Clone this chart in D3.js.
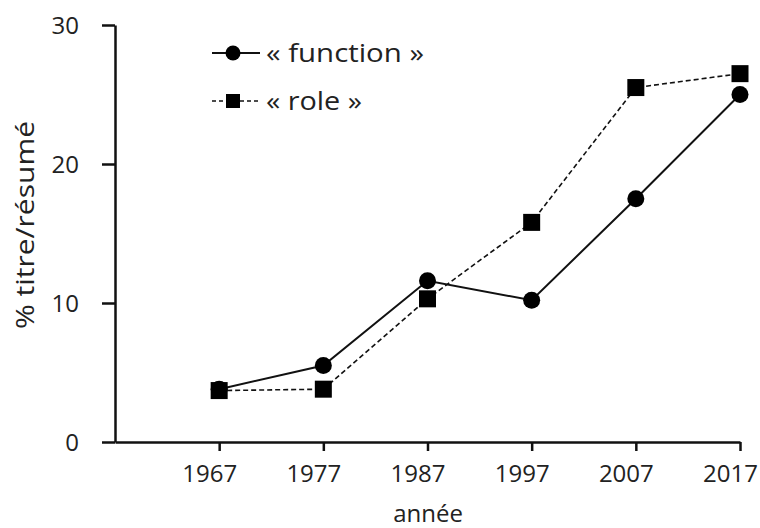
<!DOCTYPE html>
<html>
<head>
<meta charset="utf-8">
<script src="https://cdn.jsdelivr.net/npm/d3@7"></script>
<style>
	body { margin: 0; background: #fff; }
	text { font-family: "Open Sans", "Noto Sans", sans-serif; fill: #222; }
</style>
</head>
<body>
<svg id="chart" width="760" height="528"></svg>
<script>
const years		= [1967, 1977, 1987, 1997, 2007, 2017];
const functionPct	= [3.8, 5.5, 11.6, 10.2, 17.5, 25.0];
const rolePct		= [3.7, 3.8, 10.3, 15.8, 25.5, 26.5];
const yTicks		= [0, 10, 20, 30];

let svg	= d3.select('#chart');

let x	= d3.scaleLinear().domain([1957, 2017]).range([115, 740]);
let y	= d3.scaleLinear().domain([0, 30]).range([442, 25]);

// axes
let yAxis = svg.append('g').attr('transform', 'translate(115,0)')
	.call(d3.axisLeft(y).tickValues(yTicks).tickSize(13).tickSizeOuter(0).tickPadding(23));
let xAxis = svg.append('g').attr('transform', 'translate(0,442)')
	.call(d3.axisBottom(x).tickValues(years).tickFormat(d3.format('d')).tickSize(9).tickSizeOuter(0).tickPadding(14));

svg.selectAll('.domain, .tick line').attr('stroke', '#111').attr('stroke-width', 2.5);
yAxis.selectAll('text').style('font-size', '24px').attr('dy', '0.34em');
xAxis.selectAll('text').style('font-size', '24px').attr('dx', '-10');

svg.append('text').attr('text-anchor', 'middle').attr('transform', 'translate(34,225) rotate(-90)')
	.style('font-size', '26px').attr('textLength', 208).attr('lengthAdjust', 'spacingAndGlyphs').text('% titre/résumé');
svg.append('text').attr('text-anchor', 'middle').attr('x', 428).attr('y', 522)
	.style('font-size', '24px').text('année');

// series
let line = d3.line().x((d, i) => x(years[i])).y(d => y(d));

svg.append('path').datum(rolePct).attr('d', line).attr('fill', 'none')
	.attr('stroke', '#111').attr('stroke-width', 1.6).attr('stroke-dasharray', '5,3');
svg.append('path').datum(functionPct).attr('d', line).attr('fill', 'none')
	.attr('stroke', '#111').attr('stroke-width', 2);

svg.selectAll('.fn-dot').data(functionPct).enter().append('circle')
	.attr('cx', (d, i) => x(years[i])).attr('cy', d => y(d)).attr('r', 8.5).attr('fill', '#000');
svg.selectAll('.role-sq').data(rolePct).enter().append('rect')
	.attr('x', (d, i) => x(years[i]) - 8.5).attr('y', d => y(d) - 8.5)
	.attr('width', 17).attr('height', 17).attr('fill', '#000');

// legend
let legend = svg.append('g');
legend.append('line').attr('x1', 212).attr('x2', 260).attr('y1', 53).attr('y2', 53).attr('stroke', '#111').attr('stroke-width', 2);
legend.append('circle').attr('cx', 233).attr('cy', 53).attr('r', 7.5).attr('fill', '#000');
legend.append('text').attr('x', 266).attr('y', 53).attr('dy', '0.34em').style('font-size', '26px')
	.attr('textLength', 158).attr('lengthAdjust', 'spacingAndGlyphs').text('« function »');

legend.append('line').attr('x1', 212).attr('x2', 260).attr('y1', 101).attr('y2', 101).attr('stroke', '#111').attr('stroke-width', 1.6).attr('stroke-dasharray', '4,3');
legend.append('rect').attr('x', 226).attr('y', 94).attr('width', 14).attr('height', 14).attr('fill', '#000');
legend.append('text').attr('x', 266).attr('y', 101).attr('dy', '0.34em').style('font-size', '26px')
	.attr('textLength', 96).attr('lengthAdjust', 'spacingAndGlyphs').text('« role »');
</script>
</body>
</html>
